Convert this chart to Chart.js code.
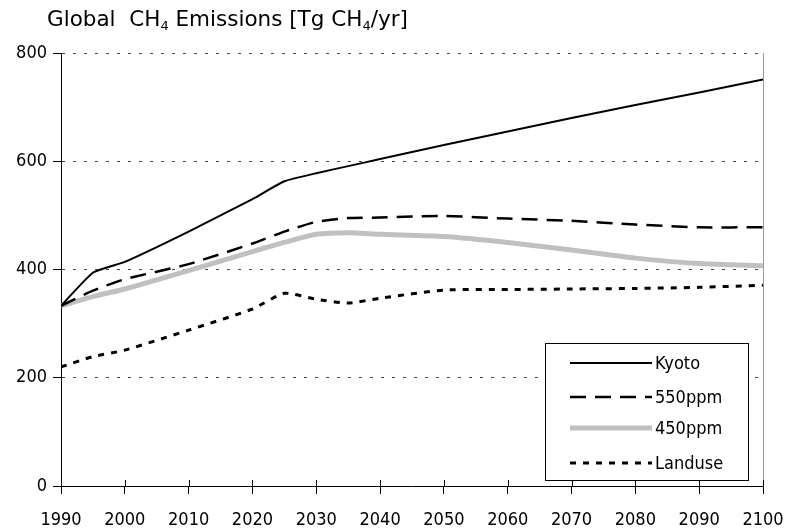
<!DOCTYPE html>
<html>
<head>
<meta charset="utf-8">
<script src="https://cdn.jsdelivr.net/npm/chart.js@4.4.0/dist/chart.umd.min.js"></script>
<style>
  html, body { margin: 0; padding: 0; background: #fff; }
  #wrap { width: 787px; height: 530px; }
</style>
</head>
<body>
<div id="wrap"><canvas id="ch4Chart" width="787" height="530"></canvas></div>
<script>
var years = [1990, 1995, 2000, 2010, 2020, 2025, 2030, 2035, 2040, 2050, 2060, 2070, 2080, 2090, 2100];
var kyoto = [333, 394, 414, 470, 530, 563, 578, 591, 604, 630, 655, 680, 704, 727, 751];
var ppm550 = [333, 361, 382, 410, 448, 470, 488, 495, 496, 499, 494, 490, 483, 478, 478];
var ppm450 = [333, 350, 364, 398, 433, 450, 465, 468, 465, 461, 450, 436, 421, 411, 407];
var landuse = [220, 239, 251, 288, 327, 356, 345, 338, 347, 362, 363, 364, 365, 367, 371];
var xTicks = [1990, 2000, 2010, 2020, 2030, 2040, 2050, 2060, 2070, 2080, 2090, 2100];
var yTicks = [0, 200, 400, 600, 800];

var FONT = "'DejaVu Sans Condensed', 'DejaVu Sans', sans-serif";
var TITLE_FONT = "'DejaVu Sans', sans-serif";

function pts(vals) {
    return years.map(function (y, i) { return { x: y, y: vals[i] }; });
}

// title, right border, upper half of x ticks and legend box
var decor = {
    id: 'decor',
    afterDraw: function (chart) {
        var ctx = chart.ctx;
        var a = chart.chartArea;
        var xs = chart.scales.x;
        ctx.save();
        ctx.strokeStyle = '#999';
        ctx.lineWidth = 1;
        ctx.beginPath();
        ctx.moveTo(a.right + 0.5, a.top);
        ctx.lineTo(a.right + 0.5, a.bottom);
        ctx.stroke();

        ctx.strokeStyle = '#000';
        ctx.beginPath();
        xTicks.forEach(function (v) {
            var px = Math.round(xs.getPixelForValue(v)) + 0.5;
            ctx.moveTo(px, a.bottom - 6);
            ctx.lineTo(px, a.bottom);
        });
        ctx.stroke();

        // title with subscripts
        var parts = [['Global  CH', 0], ['4', 1], [' Emissions [Tg CH', 0], ['4', 1], ['/yr]', 0]];
        var x = 47, y = 26;
        ctx.fillStyle = '#000';
        ctx.textBaseline = 'alphabetic';
        parts.forEach(function (p) {
            ctx.font = (p[1] ? '13px ' : '21.5px ') + TITLE_FONT;
            ctx.fillText(p[0], x, p[1] ? y + 4 : y);
            x += ctx.measureText(p[0]).width;
        });

        // legend
        var bx = 545.5, by = 343.5, bw = 203, bh = 137;
        ctx.fillStyle = '#fff';
        ctx.fillRect(bx, by, bw, bh);
        ctx.strokeStyle = '#000';
        ctx.lineWidth = 1;
        ctx.strokeRect(bx, by, bw, bh);
        var rows = [363, 397, 428, 463];
        chart.data.datasets.forEach(function (ds, i) {
            ctx.strokeStyle = ds.borderColor;
            ctx.lineWidth = ds.borderWidth;
            ctx.setLineDash(ds.borderDash || []);
            ctx.beginPath();
            ctx.moveTo(570, rows[i]);
            ctx.lineTo(652, rows[i]);
            ctx.stroke();
            ctx.setLineDash([]);
            ctx.fillStyle = '#000';
            ctx.font = '18px ' + FONT;
            ctx.textBaseline = 'middle';
            ctx.fillText(ds.label, 655, rows[i] + 1);
        });
        ctx.restore();
    }
};

var chart = new Chart(document.getElementById('ch4Chart').getContext('2d'), {
    type: 'line',
    data: {
        datasets: [{
            label: 'Kyoto',
            data: pts(kyoto),
            borderColor: '#000',
            borderWidth: 2,
            tension: 0.15
        }, {
            label: '550ppm',
            data: pts(ppm550),
            borderColor: '#000',
            borderWidth: 2.5,
            borderDash: [16, 9],
            tension: 0.2
        }, {
            label: '450ppm',
            data: pts(ppm450),
            borderColor: '#c0c0c0',
            borderWidth: 5,
            tension: 0.2
        }, {
            label: 'Landuse',
            data: pts(landuse),
            borderColor: '#000',
            borderWidth: 3,
            borderDash: [6, 7],
            tension: 0.2
        }]
    },
    options: {
        responsive: false,
        animation: false,
        events: [],
        layout: { autoPadding: false, padding: { top: 53, right: 24, left: 0, bottom: 0 } },
        elements: { point: { radius: 0 } },
        plugins: {
            legend: { display: false },
            title: { display: false },
            tooltip: { enabled: false }
        },
        scales: {
            x: {
                type: 'linear',
                min: 1990,
                max: 2100,
                afterBuildTicks: function (s) { s.ticks = xTicks.map(function (v) { return { value: v }; }); },
                afterFit: function (s) { s.height = 44; s.paddingLeft = 0; s.paddingRight = 0; },
                ticks: {
                    color: '#000',
                    font: { family: FONT, size: 18 },
                    padding: 16,
                    maxRotation: 0,
                    callback: function (v) { return String(v); }
                },
                grid: { drawOnChartArea: false, drawTicks: true, tickLength: 8, color: '#000' },
                border: { color: '#000', width: 1 }
            },
            y: {
                min: 0,
                max: 800,
                afterBuildTicks: function (s) { s.ticks = yTicks.map(function (v) { return { value: v }; }); },
                afterFit: function (s) { s.width = 61; s.paddingTop = 0; s.paddingBottom = 0; },
                ticks: {
                    color: '#000',
                    font: { family: FONT, size: 18 },
                    padding: 6
                },
                grid: {
                    color: function (c) { return c.tick && c.tick.value === 0 ? 'rgba(0,0,0,0)' : '#444'; },
                    tickColor: '#000',
                    tickLength: 8,
                    lineWidth: 1,
                    drawTicks: true
                },
                border: { color: '#000', width: 1, dash: [3, 8] }
            }
        }
    },
    plugins: [decor]
});
</script>
</body>
</html>
